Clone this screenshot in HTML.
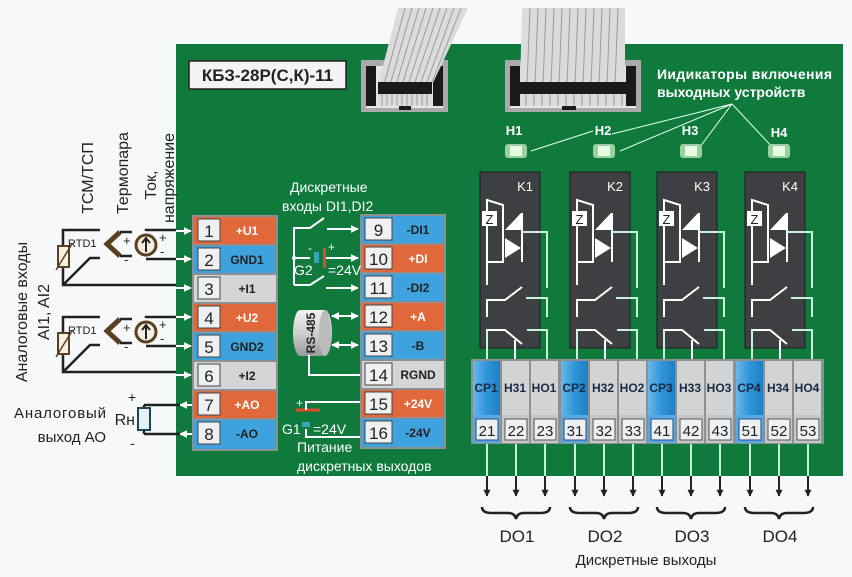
<!DOCTYPE html>
<html><head><meta charset="utf-8"><style>
html,body{margin:0;padding:0;background:#f6f8fa;}
svg{display:block;font-family:"Liberation Sans",sans-serif;}
.n{font-size:17px;fill:#222;font-family:"Liberation Sans",sans-serif;}
.l{font-size:12px;font-weight:bold;fill:#fff;}
.lg{font-size:12px;font-weight:bold;fill:#222;}
.w{stroke:#fff;stroke-width:2;fill:none;}
.g{stroke:#c9f2da;stroke-width:2;fill:none;}
.k{stroke:#222;stroke-width:2.5;fill:none;}
</style></head><body>
<svg width="852" height="577" viewBox="0 0 852 577" xmlns="http://www.w3.org/2000/svg">
<defs>
<marker id="aw" viewBox="0 0 10 10" refX="9" refY="5" markerWidth="4" markerHeight="4" orient="auto-start-reverse"><path d="M0,0L10,5L0,10z" fill="#fff"/></marker>
<marker id="ab" viewBox="0 0 10 10" refX="9" refY="5" markerWidth="3.5" markerHeight="3.5" orient="auto"><path d="M0,0L10,5L0,10z" fill="#222"/></marker>
<linearGradient id="cyl" x1="0" y1="0" x2="0" y2="1"><stop offset="0" stop-color="#f2f2f2"/><stop offset=".5" stop-color="#cfcfcf"/><stop offset="1" stop-color="#9a9a9a"/></linearGradient>
<linearGradient id="blue" x1="0" y1="0" x2="1" y2="0"><stop offset="0" stop-color="#6ab8ea"/><stop offset=".5" stop-color="#2f95d8"/><stop offset="1" stop-color="#1f7fc4"/></linearGradient>
</defs>
<rect width="852" height="577" fill="#f6f8fa"/>
<!-- board -->
<rect x="176" y="44" width="667" height="432" fill="#0f7a3c"/>
<!-- connectors -->
<rect x="361" y="60" width="87" height="52" fill="#a9aaa9"/>
<rect x="366" y="66" width="77" height="42" fill="#e6e6e6"/>
<rect x="366" y="66" width="10" height="40" fill="#1a1a1a"/><rect x="433" y="66" width="10" height="40" fill="#1a1a1a"/>
<rect x="378" y="85" width="54" height="20" fill="#dcdcdc"/>
<g stroke="#9a9a9a"><path d="M382,85V106M387,85V106M392,85V106M397,85V106M402,85V106M407,85V106M412,85V106M417,85V106M422,85V106M427,85V106"/></g>
<rect x="399" y="106" width="12" height="4" fill="#1a1a1a"/>
<rect x="505" y="60" width="136" height="52" fill="#a9aaa9"/>
<rect x="510" y="66" width="126" height="42" fill="#e6e6e6"/>
<rect x="510" y="66" width="10" height="40" fill="#1a1a1a"/><rect x="626" y="66" width="10" height="40" fill="#1a1a1a"/>
<rect x="520" y="85" width="106" height="20" fill="#dcdcdc"/>
<g stroke="#9a9a9a"><path d="M526,85V106M534,85V106M542,85V106M550,85V106M558,85V106M566,85V106M574,85V106M582,85V106M590,85V106M598,85V106M606,85V106M614,85V106M622,85V106"/></g>
<rect x="562" y="106" width="14" height="4" fill="#1a1a1a"/>
<!-- ribbon cables -->
<polygon points="398,8 468,8 432,85 378,85" fill="#dcdcdc"/>
<polygon points="522,8 625,8 625,85 520,85" fill="#dcdcdc"/>
<g stroke="#9a9a9a" stroke-width="1">
<path d="M405,8L384,85M412,8L390,85M419,8L396,85M426,8L402,85M433,8L408,85M440,8L414,85M447,8L420,85M454,8L426,85M461,8L431,85"/>
<path d="M530,8L527,85M538,8L535,85M546,8L543,85M554,8L551,85M562,8L559,85M570,8L567,85M578,8L575,85M586,8L583,85M594,8L591,85M602,8L599,85M610,8L607,85M618,8L615,85"/>
</g>
<rect x="378" y="82" width="54" height="12" fill="#1a1a1a"/>
<rect x="520" y="82" width="106" height="12" fill="#1a1a1a"/>
<!-- title -->
<rect x="189" y="61" width="157" height="28" fill="#f4f4f4" stroke="#222" stroke-width="1.5"/>
<text x="267.5" y="81" text-anchor="middle" font-size="17" font-weight="bold" fill="#222">КБЗ-28Р(С,К)-11</text>
<text x="657" y="79" font-size="14" font-weight="bold" fill="#fff" textLength="175">Иидикаторы включения</text>
<text x="657" y="97" font-size="14" font-weight="bold" fill="#fff">выходных устройств</text>
<g stroke="#e8fff0" stroke-width="1" fill="none">
<path d="M732,104L612,134M732,104L620,151M732,104L697,151M732,104L776,151M531,151L593,131"/>
</g>
<g font-size="13" font-weight="bold" fill="#fff" text-anchor="middle">
<text x="514" y="135">H1</text><text x="603" y="135">H2</text><text x="690" y="135">H3</text><text x="779" y="137">H4</text>
</g>
<g>
<rect x="505" y="144" width="22" height="14" rx="3" fill="#9bd19f"/><rect x="510" y="146" width="12" height="10" fill="#e9fbe7"/>
<rect x="593" y="144" width="22" height="14" rx="3" fill="#9bd19f"/><rect x="598" y="146" width="12" height="10" fill="#e9fbe7"/>
<rect x="680" y="144" width="22" height="14" rx="3" fill="#9bd19f"/><rect x="685" y="146" width="12" height="10" fill="#e9fbe7"/>
<rect x="768" y="144" width="22" height="14" rx="3" fill="#9bd19f"/><rect x="773" y="146" width="12" height="10" fill="#e9fbe7"/>
</g>
<!-- relays -->
<g id="relay">
<rect x="480" y="172" width="60" height="176" fill="#3d3f42" stroke="#1c1c1c"/>
<path class="w" d="M487,285V200L503,205V262H487"/>
<rect x="482" y="211" width="15" height="15" fill="#fff"/>
<text x="489.5" y="224" font-size="13" fill="#222" text-anchor="middle">Z</text>
<polygon points="521,213 505,230 521,230" fill="#fff"/>
<polygon points="505,238 521,248 505,258" fill="#fff"/>
<path class="w" d="M522,213V262"/>
<path class="g" d="M522,232H547V288"/>
<path class="w" d="M487,317V300H505L522,287M487,364V330H505L522,344M515,340V364"/>
<path class="g" d="M526,298H547V317M527,330H547V364M487,330V364"/>
</g>
<use href="#relay" x="90"/><use href="#relay" x="177"/><use href="#relay" x="265"/>
<g font-size="13" fill="#fff" text-anchor="end">
<text x="533" y="191">K1</text><text x="623" y="191">K2</text><text x="710" y="191">K3</text><text x="798" y="191">K4</text>
</g>
<!-- bottom terminal block -->
<rect x="471" y="359" width="353" height="85" fill="#8d9092"/>
<g id="bt">
<rect x="473" y="361" width="27" height="54" fill="url(#blue)"/>
<rect x="502" y="361" width="27" height="54" fill="#d1d3d5"/>
<rect x="531" y="361" width="27" height="54" fill="#d1d3d5"/>
<rect x="473" y="415" width="27" height="28" fill="#5aa9e0"/>
<rect x="502" y="415" width="27" height="28" fill="#c4c6c8"/>
<rect x="531" y="415" width="27" height="28" fill="#c4c6c8"/>
<rect x="476" y="419" width="22" height="21" fill="#eef0f2" stroke="#1e4a8a"/>
<rect x="505" y="419" width="22" height="21" fill="#eef0f2" stroke="#555"/>
<rect x="534" y="419" width="22" height="21" fill="#eef0f2" stroke="#555"/>
</g>
<use href="#bt" x="88"/><use href="#bt" x="175"/><use href="#bt" x="263"/>
<g font-size="12" font-weight="bold" fill="#1a2a44" text-anchor="middle">
<text x="486" y="392">CP1</text><text x="515" y="392">H31</text><text x="544" y="392">HO1</text>
<text x="574" y="392">CP2</text><text x="603" y="392">H32</text><text x="632" y="392">HO2</text>
<text x="661" y="392">CP3</text><text x="690" y="392">H33</text><text x="719" y="392">HO3</text>
<text x="749" y="392">CP4</text><text x="778" y="392">H34</text><text x="807" y="392">HO4</text>
</g>
<g font-size="15" fill="#222" text-anchor="middle">
<text x="487" y="436">21</text><text x="516" y="436">22</text><text x="545" y="436">23</text>
<text x="575" y="436">31</text><text x="604" y="436">32</text><text x="633" y="436">33</text>
<text x="662" y="436">41</text><text x="691" y="436">42</text><text x="720" y="436">43</text>
<text x="750" y="436">51</text><text x="779" y="436">52</text><text x="808" y="436">53</text>
</g>
<!-- output lines -->
<g class="g"><path d="M487,444V476M516,444V476M545,444V476M575,444V476M604,444V476M633,444V476M662,444V476M691,444V476M720,444V476M750,444V476M779,444V476M808,444V476"/></g>
<g stroke="#222" stroke-width="2" marker-end="url(#ab)"><path d="M487,476V496"/><path d="M516,476V496"/><path d="M545,476V496"/><path d="M575,476V496"/><path d="M604,476V496"/><path d="M633,476V496"/><path d="M662,476V496"/><path d="M691,476V496"/><path d="M720,476V496"/><path d="M750,476V496"/><path d="M779,476V496"/><path d="M808,476V496"/></g>
<g class="k" stroke-width="3">
<path d="M482,507Q482,513 492,513H508Q515,513 516,519Q517,513 524,513H540Q550,513 550,507"/>
<path d="M570,507Q570,513 580,513H596Q603,513 604,519Q605,513 612,513H628Q638,513 638,507"/>
<path d="M657,507Q657,513 667,513H683Q690,513 691,519Q692,513 699,513H715Q725,513 725,507"/>
<path d="M745,507Q745,513 755,513H771Q778,513 779,519Q780,513 787,513H803Q813,513 813,507"/>
</g>
<g font-size="17" fill="#222" text-anchor="middle">
<text x="517" y="542">DO1</text><text x="605" y="542">DO2</text><text x="692" y="542">DO3</text><text x="780" y="542">DO4</text>
</g>
<text x="646" y="565" font-size="15" fill="#222" text-anchor="middle">Дискретные  выходы</text>
<!-- left terminal column -->
<rect x="192" y="215" width="86" height="236" fill="#8d9092"/>
<g>
<rect x="194" y="217" width="82" height="27" fill="#e0683a"/>
<rect x="194" y="246" width="82" height="27" fill="#3ea2de"/>
<rect x="194" y="275" width="82" height="27" fill="#d3d5d7"/>
<rect x="194" y="304" width="82" height="27" fill="#e0683a"/>
<rect x="194" y="333" width="82" height="27" fill="#3ea2de"/>
<rect x="194" y="362" width="82" height="27" fill="#d3d5d7"/>
<rect x="194" y="391" width="82" height="27" fill="#e0683a"/>
<rect x="194" y="420" width="82" height="29" fill="#3ea2de"/>
</g>
<g fill="#eef0f2" stroke="#444">
<rect x="198" y="219" width="22" height="22"/><rect x="198" y="248" width="22" height="22"/><rect x="198" y="277" width="22" height="22"/><rect x="198" y="306" width="22" height="22"/><rect x="198" y="335" width="22" height="22"/><rect x="198" y="364" width="22" height="22"/><rect x="198" y="393" width="22" height="22"/><rect x="198" y="422" width="22" height="22"/>
</g>
<g class="n" text-anchor="middle" font-size="18">
<text x="209" y="237">1</text><text x="209" y="266">2</text><text x="209" y="295">3</text><text x="209" y="324">4</text><text x="209" y="353">5</text><text x="209" y="382">6</text><text x="209" y="411">7</text><text x="209" y="440">8</text>
</g>
<g text-anchor="middle">
<text class="l" x="247" y="235">+U1</text><text class="lg" x="247" y="264">GND1</text><text class="lg" x="247" y="293">+I1</text><text class="l" x="247" y="322">+U2</text><text class="lg" x="247" y="351">GND2</text><text class="lg" x="247" y="380">+I2</text><text class="l" x="247" y="409">+AO</text><text class="lg" x="247" y="438">-AO</text>
</g>
<!-- right terminal column -->
<rect x="360" y="214" width="86" height="235" fill="#8d9092"/>
<g>
<rect x="362" y="216" width="82" height="27" fill="#3ea2de"/>
<rect x="362" y="245" width="82" height="27" fill="#e0683a"/>
<rect x="362" y="274" width="82" height="27" fill="#3ea2de"/>
<rect x="362" y="303" width="82" height="27" fill="#e0683a"/>
<rect x="362" y="332" width="82" height="27" fill="#3ea2de"/>
<rect x="362" y="361" width="82" height="27" fill="#d3d5d7"/>
<rect x="362" y="390" width="82" height="27" fill="#e0683a"/>
<rect x="362" y="419" width="82" height="28" fill="#3ea2de"/>
</g>
<g fill="#eef0f2" stroke="#444">
<rect x="365" y="218" width="27" height="22"/><rect x="365" y="247" width="27" height="22"/><rect x="365" y="276" width="27" height="22"/><rect x="365" y="305" width="27" height="22"/><rect x="365" y="334" width="27" height="22"/><rect x="365" y="363" width="27" height="22"/><rect x="365" y="392" width="27" height="22"/><rect x="365" y="421" width="27" height="22"/>
</g>
<g class="n" text-anchor="middle" font-size="18">
<text x="378.5" y="236">9</text><text x="378.5" y="265">10</text><text x="378.5" y="294">11</text><text x="378.5" y="323">12</text><text x="378.5" y="352">13</text><text x="378.5" y="381">14</text><text x="378.5" y="410">15</text><text x="378.5" y="439">16</text>
</g>
<g text-anchor="middle">
<text class="lg" x="418" y="234">-DI1</text><text class="l" x="418" y="263">+DI</text><text class="lg" x="418" y="292">-DI2</text><text class="l" x="418" y="321">+A</text><text class="lg" x="418" y="350">-B</text><text class="lg" x="418" y="379">RGND</text><text class="l" x="418" y="408">+24V</text><text class="lg" x="418" y="437">-24V</text>
</g>
<!-- left arrows into board -->
<g stroke="#fff" stroke-width="2" marker-end="url(#aw)">
<path d="M175,231H191"/><path d="M175,259H191"/><path d="M175,288H191"/><path d="M175,317H191"/><path d="M175,346H191"/><path d="M175,375H191"/>
</g>
<g stroke="#fff" stroke-width="2" marker-start="url(#aw)">
<path d="M180,405H192"/><path d="M180,434H192"/>
</g>
<!-- left external wiring group 1 & 2 -->
<g id="grp">
<path class="k" d="M100,230H63V285H176M100,258H90L63,285"/>
<rect x="58" y="246" width="11" height="21" fill="#f5f0df" stroke="#5a4020" stroke-width="2"/>
<path d="M56,270L72,244" stroke="#5a4020" stroke-width="1.5"/>
<text x="68" y="247" font-size="11" fill="#222">RTD1</text>
<path d="M120,232L107,244L120,256" stroke="#5a4020" stroke-width="5" fill="none"/>
<path class="k" d="M120,232H132M120,256H132"/>
<text x="123" y="245" font-size="13" fill="#222">+</text><text x="124" y="264" font-size="13" fill="#222">-</text>
<circle cx="146" cy="245" r="10" fill="#f5f0df" stroke="#5a4020" stroke-width="3"/>
<path d="M146,252V239M142,243L146,238L150,243" stroke="#222" stroke-width="2" fill="none"/>
<path class="k" d="M146,231V230H176M146,259H176"/>
<text x="159" y="242" font-size="13" fill="#222">+</text><text x="160" y="256" font-size="13" fill="#222">-</text>
</g>
<use href="#grp" y="87"/>
<!-- AO -->
<path class="k" d="M144,405H180M144,434H180M144,405V410M144,429V434"/>
<rect x="138" y="408" width="12" height="22" fill="#e6f2f6" stroke="#1a4a5a" stroke-width="2"/>
<text x="128" y="402" font-size="14" fill="#222">+</text><text x="130" y="448" font-size="14" fill="#222">-</text>
<text x="135" y="425" font-size="16" fill="#222" text-anchor="end">Rн</text>
<text x="106" y="418" font-size="15" fill="#222" text-anchor="end" textLength="92">Аналоговый</text>
<text x="106" y="442" font-size="15" fill="#222" text-anchor="end">выход АО</text>
<!-- rotated left texts -->
<g font-size="16" fill="#222" text-anchor="middle">
<text transform="translate(27,312) rotate(-90)">Аналоговые входы</text>
<text transform="translate(49,312) rotate(-90)">AI1, AI2</text>
<text transform="translate(93,178) rotate(-90)">ТСМ/ТСП</text>
<text transform="translate(128,173) rotate(-90)">Термопара</text>
<text transform="translate(156,185) rotate(-90)">Ток,</text>
<text transform="translate(174,178) rotate(-90)">напряжение</text>
</g>
<!-- discrete inputs -->
<text x="290" y="192" font-size="14" fill="#fff">Дискретные</text>
<text x="282" y="211" font-size="14" fill="#fff">входы  DI1,DI2</text>
<path class="w" d="M294,285V228H310L324,218M294,258H310M294,285H310L324,276"/>
<circle cx="294" cy="258" r="2" fill="#fff"/>
<rect x="314" y="252" width="5" height="11" fill="#3aa4b8"/>
<rect x="323" y="248" width="3" height="20" fill="#e04a2a"/>
<text x="308" y="252" font-size="12" fill="#fff">-</text><text x="328" y="251" font-size="12" fill="#fff">+</text>
<text x="294" y="275" font-size="14" fill="#fff">G2</text><text x="328" y="275" font-size="14" fill="#fff">=24V</text>
<g stroke="#fff" stroke-width="2" marker-end="url(#aw)">
<path d="M327,229H358"/><path d="M326,258H358"/><path d="M326,288H358"/>
</g>
<!-- RS-485 -->
<path d="M300,310H325A7,23 0 0 1 325,356H300A7,23 0 0 1 300,310Z" fill="url(#cyl)"/>
<ellipse cx="325" cy="333" rx="6" ry="23" fill="#bbb"/>
<text transform="translate(315,333) rotate(-90)" font-size="12" font-weight="bold" fill="#222" text-anchor="middle">RS-485</text>
<g stroke="#fff" stroke-width="2" marker-end="url(#aw)" marker-start="url(#aw)">
<path d="M332,316H358"/><path d="M332,345H358"/>
</g>
<path class="w" d="M309,355V375H360"/>
<!-- G1 -->
<path d="M296,410H320" stroke="#e04a2a" stroke-width="3"/>
<path class="w" d="M306,410V402H360M306,429V437H360"/>
<rect x="302" y="422" width="8" height="5" fill="#3aa4b8"/>
<text x="296" y="407" font-size="12" fill="#fff">+</text>
<text x="282" y="434" font-size="14" fill="#fff">G1</text><text x="313" y="434" font-size="14" fill="#fff">=24V</text>
<text x="297" y="452" font-size="14" fill="#fff">Питание</text>
<text x="297" y="471" font-size="14" fill="#fff">дискретных выходов</text>
</svg>
</body></html>
